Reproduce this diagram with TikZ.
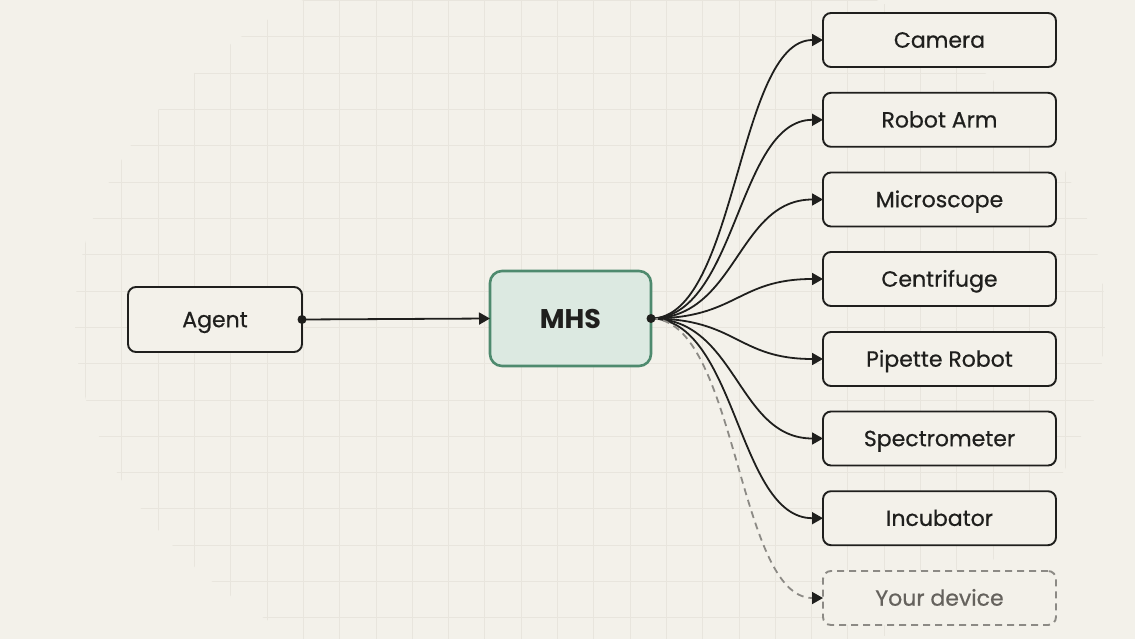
\documentclass[tikz,border=0pt]{standalone}
\usepackage{fontspec}
\setmainfont{Poppins}
\newfontfamily\labelfont{Poppins}[FakeBold=0.6]
\usetikzlibrary{arrows.meta}
\definecolor{bg}{HTML}{F3F1EA}
\definecolor{gridc}{HTML}{E8E5DD}
\definecolor{ink}{HTML}{1F1F1D}
\definecolor{mhsfill}{HTML}{DCE9E1}
\definecolor{mhsdraw}{HTML}{4E8A6E}
\definecolor{ghost}{HTML}{8C8A85}
\definecolor{ghosttext}{HTML}{65625D}
\tikzset{
  box/.style={draw=ink, line width=1.9pt, rounded corners=8pt, fill=bg,
    minimum height=54pt, inner sep=0pt, outer sep=0pt, text=ink,
    text height=15.4pt, text depth=0pt,
    font=\labelfont\fontsize{22}{26}\selectfont},
  devbox/.style={box, minimum width=233pt},
  ghostbox/.style={devbox, draw=ghost, dash pattern=on 7pt off 5pt, text=ghosttext},
  mhsbox/.style={draw=mhsdraw, fill=mhsfill, line width=2.6pt, rounded corners=12pt,
    minimum width=161pt, minimum height=95pt, inner sep=0pt, outer sep=0pt, text=ink,
    text height=19pt, text depth=0pt,
    font=\fontsize{27}{30}\selectfont\bfseries},
  link/.style={draw=ink, line width=1.8pt, -{Triangle[length=11pt,width=12pt]}},
  ghostlink/.style={draw=ghost, line width=1.8pt, dash pattern=on 7pt off 5pt,
    -{Triangle[length=11pt,width=12pt,color=ink]}},
  dot/.style={circle, fill=ink, inner sep=0pt, minimum size=9pt},
}
\begin{document}
\begin{tikzpicture}[x=1pt,y=-1pt]
\useasboundingbox (0,0) rectangle (1135,639);
\fill[bg] (0,0) rectangle (1135,639);
% faint grid, fading out towards the edges
\begin{scope}
  \clip (590,320) ellipse [x radius=515, y radius=385];
  \foreach \i in {0,...,31} {
    \draw[gridc, line width=1pt] ({13+36.3*\i},0) -- ({13+36.3*\i},639);
  }
  \foreach \j in {0,...,17} {
    \draw[gridc, line width=1pt] (0,{0.7+36.3*\j}) -- (1135,{0.7+36.3*\j});
  }
\end{scope}

\node[box, minimum width=174pt, minimum height=65pt] (agent) at (215,319.5) {Agent};
\node[mhsbox] (mhs) at (570.5,318.5) {MHS};

\node[devbox] (d1) at (939.5,40) {Camera};
\node[devbox] (d2) at (939.5,119.8) {Robot Arm};
\node[devbox] (d3) at (939.5,199.5) {Microscope};
\node[devbox] (d4) at (939.5,279) {Centrifuge};
\node[devbox] (d5) at (939.5,359) {Pipette Robot};
\node[devbox] (d6) at (939.5,438.5) {Spectrometer};
\node[devbox] (d7) at (939.5,518.2) {Incubator};
\node[ghostbox] (d8) at (939.5,598) {Your device};

\draw[link] (agent.east) -- (mhs.west);
\foreach \d in {d1,d2,d3,d4,d5,d6,d7} {
  \draw[link] (mhs.east) .. controls +(86,0) and +(-86,0) .. (\d.west);
}
\draw[ghostlink] (mhs.east) .. controls +(86,0) and +(-86,0) .. (d8.west);

\node[dot] (agentdot) at (agent.east) {};
\node[dot] (mhsdot) at (mhs.east) {};
\end{tikzpicture}
\end{document}
